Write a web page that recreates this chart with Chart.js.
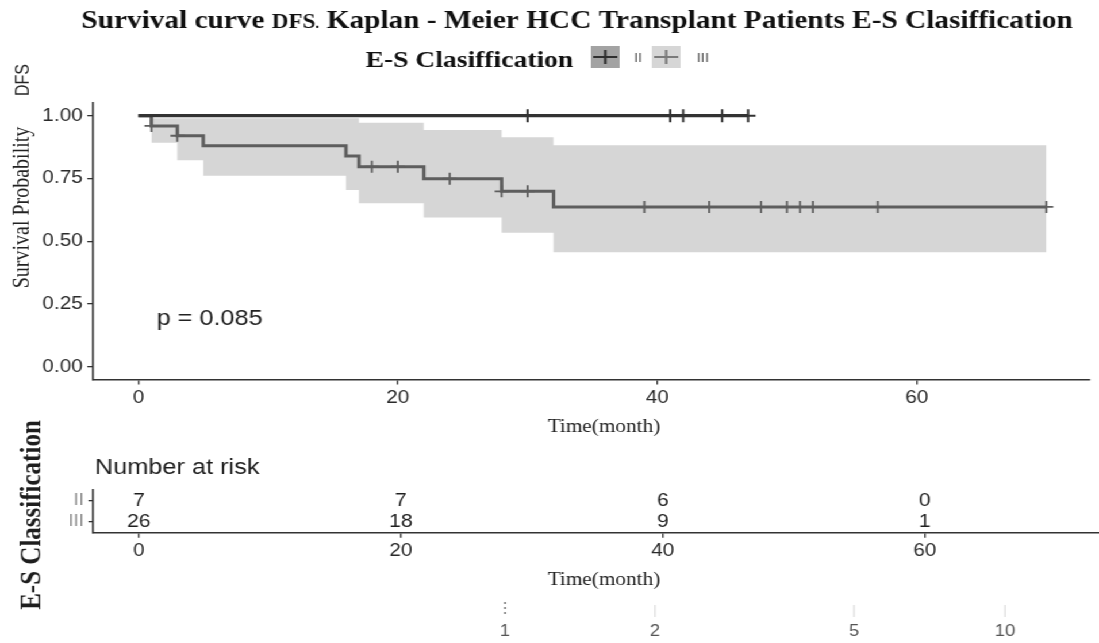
<!DOCTYPE html>
<html>
<head>
<meta charset="utf-8">
<script src="https://cdn.jsdelivr.net/npm/chart.js@4.4.1/dist/chart.umd.min.js"></script>
<style>
  html, body { margin: 0; padding: 0; background: #fff; overflow: hidden; }
  /* the plot is laid out a bit narrower and stretched sideways, like the exported figure */
  #wrap { position: relative; width: 956px; height: 643px; transform: scaleX(1.1496); transform-origin: 0 0; }
  canvas { display: block; position: absolute; left: 0; }
  #km { top: 0; }
  #risk { top: 410px; }
</style>
</head>
<body>
<div id="wrap">
  <canvas id="km" width="956" height="440"></canvas>
  <canvas id="risk" width="956" height="233"></canvas>
</div>
<script>
// group II: no events, only censored
const timeII = [0, 47];
const survII = [1, 1];
const censorII = [30, 41, 42, 45, 47];

// group III
const timeIII = [0, 1, 3, 5, 16, 17, 22, 28, 32, 70];
const survIII = [1, 0.959, 0.920, 0.880, 0.839, 0.797, 0.749, 0.699, 0.637, 0.637];
const censorIII = [1, 3, 18, 20, 24, 28, 30, 39, 44, 48, 50, 51, 52, 57, 70];

// confidence band of group III
const ciTime = [1, 3, 5, 16, 17, 22, 28, 32, 70];
const ciUpper = [0.99, 0.99, 0.99, 0.99, 0.972, 0.943, 0.914, 0.882, 0.882];
const ciLower = [0.892, 0.823, 0.761, 0.704, 0.651, 0.595, 0.534, 0.456, 0.456];

// number at risk table
const riskTimes = [0, 20, 40, 60];
const riskGroups = ['II', 'III'];
const riskII = [7, 7, 6, 0];
const riskIII = [26, 18, 9, 1];

const xTicks = [0, 20, 40, 60];
const yTicks = [0, 0.25, 0.5, 0.75, 1];
const pValue = 'p = 0.085';

const SANS = '"Liberation Sans", Arial, sans-serif';
const SERIF = '"Liberation Serif", "Times New Roman", serif';
const X_MIN = -3.5, X_MAX = 73.3;
const AXIS_W = 80.9;

function pts(xs, ys) { return xs.map((x, i) => ({ x: x, y: ys[i] })); }

function survAt(times, surv, t) {
  let s = surv[0];
  for (let i = 0; i < times.length; i++) if (times[i] <= t) s = surv[i];
  return s;
}

function xAxis(height) {
  return {
    type: 'linear', min: X_MIN, max: X_MAX,
    afterBuildTicks: s => { s.ticks = xTicks.map(v => ({ value: v })); },
    afterFit: s => { s.height = height; },
    ticks: { font: { family: SANS, size: 18 }, color: '#2a2a2a', padding: 3, maxRotation: 0, autoSkip: false,
             callback: v => String(v) },
    grid: { drawOnChartArea: false, tickLength: 5, color: '#333', lineWidth: 1.3 },
    border: { color: '#333', width: 1.6 }
  };
}

function rotText(ctx, text, x, y, font) {
  ctx.save();
  ctx.translate(x, y);
  ctx.rotate(-Math.PI / 2);
  ctx.font = font;
  ctx.textAlign = 'center';
  ctx.textBaseline = 'alphabetic';
  ctx.fillText(text, 0, 0);
  ctx.restore();
}

const kmLabels = {
  id: 'kmLabels',
  afterDraw(chart) {
    const { ctx, scales: { x, y } } = chart;
    ctx.save();
    ctx.fillStyle = '#111';

    // title, "DFS" set smaller
    const parts = [
      ['Survival curve ', 25.5], ['DFS', 20], ['.', 14],
      [' Kaplan - Meier HCC Transplant Patients E-S Clasiffication', 25.5]
    ];
    let total = 0;
    parts.forEach(p => { ctx.font = 'bold ' + p[1] + 'px ' + SERIF; total += ctx.measureText(p[0]).width; });
    let tx = 502 - total / 2;
    ctx.textAlign = 'left';
    ctx.textBaseline = 'alphabetic';
    parts.forEach(p => {
      ctx.font = 'bold ' + p[1] + 'px ' + SERIF;
      ctx.fillText(p[0], tx, 28);
      tx += ctx.measureText(p[0]).width;
    });

    // legend row
    ctx.font = 'bold 24px ' + SERIF;
    ctx.fillText('E-S Clasiffication', 318, 67);
    const keys = [
      { x: 514, fill: '#a3a3a3', line: '#2e2e2e', label: 'II', lx: 551.5 },
      { x: 567, fill: '#d6d6d6', line: '#7a7a7a', label: 'III', lx: 606 }
    ];
    keys.forEach(k => {
      ctx.fillStyle = k.fill;
      ctx.fillRect(k.x, 46, 25, 22);
      ctx.strokeStyle = k.line;
      ctx.lineWidth = 2.2;
      ctx.beginPath();
      ctx.moveTo(k.x + 2, 57); ctx.lineTo(k.x + 23, 57);
      ctx.moveTo(k.x + 12.5, 50); ctx.lineTo(k.x + 12.5, 64);
      ctx.stroke();
      ctx.fillStyle = '#555';
      ctx.font = '13px ' + SANS;
      ctx.fillText(k.label, k.lx, 62);
    });

    // y axis title
    ctx.fillStyle = '#222';
    rotText(ctx, 'Survival Probability', 25, 207.5, '20px ' + SERIF);
    rotText(ctx, 'DFS', 25, 80, '16px ' + SANS);

    // x axis title
    ctx.font = '18.5px ' + SERIF;
    ctx.textAlign = 'center';
    ctx.textBaseline = 'middle';
    ctx.fillText('Time(month)', 525.4, 427);

    // log-rank p value
    ctx.font = '22px ' + SANS;
    ctx.textAlign = 'left';
    ctx.fillText(pValue, x.getPixelForValue(1.4), y.getPixelForValue(0.19));
    ctx.restore();
  }
};

new Chart(document.getElementById('km'), {
  type: 'scatter',
  data: {
    datasets: [
      { data: pts(censorII, censorII.map(t => survAt(timeII, survII, t))), pointStyle: 'cross', pointRadius: 6.5,
        borderColor: '#333', borderWidth: 2, order: 0 },
      { data: pts(censorIII, censorIII.map(t => survAt(timeIII, survIII, t))), pointStyle: 'cross', pointRadius: 6,
        borderColor: '#5e5e5e', borderWidth: 1.8, order: 0 },
      { data: pts(timeII, survII), showLine: true, stepped: true, pointRadius: 0, borderColor: '#333', borderWidth: 3.2, order: 1 },
      { data: pts(timeIII, survIII), showLine: true, stepped: true, pointRadius: 0, borderColor: '#5e5e5e', borderWidth: 3, order: 1 },
      { data: pts(ciTime, ciUpper), showLine: true, stepped: true, pointRadius: 0, borderWidth: 0,
        backgroundColor: '#d6d6d6', fill: '+1', order: 3 },
      { data: pts(ciTime, ciLower), showLine: true, stepped: true, pointRadius: 0, borderWidth: 0, order: 3 }
    ]
  },
  options: {
    responsive: false,
    animation: false,
    layout: { padding: { top: 103.1, left: 0, right: 0, bottom: 0 } },
    plugins: { legend: { display: false }, tooltip: { enabled: false } },
    scales: {
      x: xAxis(60.5),
      y: {
        type: 'linear', min: -0.05, max: 1.05,
        afterBuildTicks: s => { s.ticks = yTicks.map(v => ({ value: v })); },
        afterFit: s => { s.width = AXIS_W; },
        ticks: { font: { family: SANS, size: 18 }, color: '#2a2a2a', padding: 4, callback: v => v.toFixed(2) },
        grid: { drawOnChartArea: false, tickLength: 5, color: '#333', lineWidth: 1.3 },
        border: { color: '#333', width: 1.6 }
      }
    }
  },
  plugins: [kmLabels]
});

const riskLabels = {
  id: 'riskLabels',
  afterDraw(chart) {
    const { ctx, scales: { x, y } } = chart;
    ctx.save();
    ctx.fillStyle = '#1e1e1e';
    ctx.font = '18.5px ' + SANS;
    ctx.textAlign = 'center';
    ctx.textBaseline = 'middle';
    [riskII, riskIII].forEach((row, r) => {
      row.forEach((n, i) => ctx.fillText(String(n), x.getPixelForValue(riskTimes[i]), y.getPixelForValue(r)));
    });

    ctx.textAlign = 'left';
    ctx.font = '22px ' + SANS;
    ctx.fillText('Number at risk', 82.6, 58);

    ctx.textAlign = 'center';
    ctx.font = '18.5px ' + SERIF;
    ctx.fillText('Time(month)', 525.4, 170);

    rotText(ctx, 'E-S Classification', 34.8, 105, 'bold 25px ' + SERIF);

    // stray scale labels under the table
    const marks = [['1', 439.3], ['2', 569.8], ['5', 742.9], ['10', 874.2]];
    ctx.font = '16px ' + SANS;
    ctx.fillStyle = '#555';
    marks.forEach(([t, mx], i) => {
      ctx.fillText(t, mx, 222);
      if (i === 0) {
        [193, 198, 203].forEach(dy => ctx.fillRect(mx - 0.8, dy - 0.8, 1.6, 1.6));
      } else {
        ctx.fillStyle = '#d3d3d3';
        ctx.fillRect(mx - 0.5, 195, 1, 12);
        ctx.fillStyle = '#555';
      }
    });
    ctx.restore();
  }
};

new Chart(document.getElementById('risk'), {
  type: 'scatter',
  data: {
    datasets: [
      { data: riskTimes.map(t => ({ x: t, y: 'II' })), pointRadius: 0 },
      { data: riskTimes.map(t => ({ x: t, y: 'III' })), pointRadius: 0 }
    ]
  },
  options: {
    responsive: false,
    animation: false,
    layout: { padding: { top: 80, left: 0, right: 0, bottom: 0 } },
    plugins: { legend: { display: false }, tooltip: { enabled: false } },
    scales: {
      x: xAxis(110.3),
      y: {
        type: 'category', labels: riskGroups, offset: true,
        afterFit: s => { s.width = AXIS_W; },
        ticks: { font: { family: SANS, size: 16 }, color: '#8a8a8a', padding: 4, autoSkip: false },
        grid: { drawOnChartArea: false, offset: false, tickLength: 4, color: '#333', lineWidth: 1.3 },
        border: { color: '#333', width: 1.6 }
      }
    }
  },
  plugins: [riskLabels]
});
</script>
</body>
</html>
